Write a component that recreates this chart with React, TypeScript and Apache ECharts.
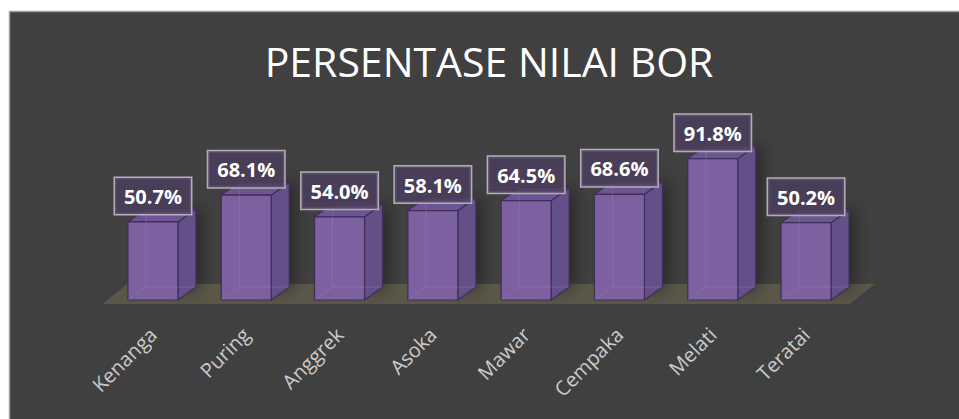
import React, { useEffect, useRef } from "react";
import * as echarts from "echarts";

const categories = ["Kenanga", "Puring", "Anggrek", "Asoka", "Mawar", "Cempaka", "Melati", "Teratai"];
const borValues = [50.7, 68.1, 54.0, 58.1, 64.5, 68.6, 91.8, 50.2];
const titleText = "PERSENTASE NILAI BOR";

const FONT = "'Open Sans', 'Noto Sans', sans-serif";
const DX = 18;
const DY = 13;
const HALF = 25;

export default function App() {
  const ref = useRef<HTMLDivElement>(null);
  useEffect(() => {
    if (!ref.current) return;
    const chart = echarts.init(ref.current, undefined, { renderer: "svg" });
    const option: any = {
      animation: false,
      backgroundColor: "#ffffff",
      graphic: [
        {
          type: "rect",
          z: -100,
          silent: true,
          shape: { x: 9.5, y: 11.5, width: 960, height: 420 },
          style: { fill: "#404040", stroke: "#a0a0a0", lineWidth: 1.5 },
        },
        {
          type: "text",
          z: 100,
          x: 489,
          y: 61,
          style: {
            text: titleText,
            fill: "#ffffff",
            font: `41px ${FONT}`,
            textAlign: "center",
            textVerticalAlign: "middle",
          },
        },
      ],
      grid: { left: 106.3, right: 106.3, top: 146, bottom: 119 },
      xAxis: {
        type: "category",
        data: categories,
        axisLine: { show: false },
        axisTick: { show: false },
        axisLabel: {
          rotate: 45,
          color: "#cbcbcb",
          fontSize: 20,
          fontFamily: FONT,
          margin: 31,
          interval: 0,
        },
      },
      yAxis: { type: "value", min: 0, max: 100, show: false, splitLine: { show: false } },
      series: [
        {
          type: "custom",
          z: 1,
          data: [0],
          silent: true,
          renderItem: (params: any, api: any) => {
            const cs = params.coordSys;
            const bottom = cs.y + cs.height;
            const fl = cs.x - 4;
            const fr = cs.x + cs.width - 3;
            return {
              type: "polygon",
              shape: {
                points: [
                  [fl, bottom + 4],
                  [fr, bottom + 4],
                  [fr + 25, bottom - 16],
                  [fl + 25, bottom - 16],
                ],
              },
              style: { fill: "#5a5749" },
            };
          },
        },
        {
          type: "custom",
          z: 3,
          data: borValues.map((v, i) => [i, v]),
          silent: true,
          renderItem: (params: any, api: any) => {
            const top = api.coord([api.value(0), api.value(1)]);
            const base = api.coord([api.value(0), 0]);
            const cx = top[0];
            const yT = top[1];
            const yB = base[1];
            const l = cx - HALF;
            const r = cx + HALF;
            const edge = "#3e2d58";
            return {
              type: "group",
              children: [
                {
                  type: "polygon",
                  shape: { points: [[r, yT], [r + DX, yT - DY], [r + DX, yB - DY], [r, yB]] },
                  style: { fill: "#654f88", stroke: edge, lineWidth: 1.2, shadowBlur: 16, shadowColor: "rgba(0,0,0,0.4)", shadowOffsetX: 5, shadowOffsetY: -3 },
                },
                {
                  type: "polygon",
                  shape: { points: [[l, yT], [l + DX, yT - DY], [r + DX, yT - DY], [r, yT]] },
                  style: { fill: "#6c5592", stroke: edge, lineWidth: 1.2 },
                },
                {
                  type: "rect",
                  shape: { x: l, y: yT, width: 2 * HALF, height: yB - yT },
                  style: { fill: "#7c60a0", stroke: edge, lineWidth: 1.2 },
                },
                {
                  type: "polyline",
                  shape: { points: [[l + DX, yT - DY], [l + DX, yB - DY], [r + DX, yB - DY]] },
                  style: { fill: "none", stroke: "rgba(170,150,200,0.25)", lineWidth: 1 },
                },
                {
                  type: "line",
                  shape: { x1: l, y1: yB, x2: l + DX, y2: yB - DY },
                  style: { stroke: "rgba(170,150,200,0.25)", lineWidth: 1 },
                },
              ],
            };
          },
        },
        {
          type: "bar",
          z: 5,
          data: borValues,
          barWidth: 50,
          itemStyle: { color: "rgba(0,0,0,0)" },
          silent: true,
          label: {
            show: true,
            position: "top",
            distance: 8,
            formatter: (p: any) => `${Number(p.value).toFixed(1)}%`,
            color: "#ffffff",
            fontSize: 20,
            fontWeight: "bold",
            fontFamily: FONT,
            backgroundColor: "rgba(75,62,92,0.85)",
            borderColor: "#b4aebb",
            borderWidth: 1.5,
            padding: [8, 9, 7, 9],
            lineHeight: 21,
          },
        },
      ],
    };
    chart.setOption(option);
    return () => chart.dispose();
  }, []);
  return (
    <div
      ref={ref}
      style={{ position: "fixed", left: 0, top: 0, width: 959, height: 419 }}
    />
  );
}
